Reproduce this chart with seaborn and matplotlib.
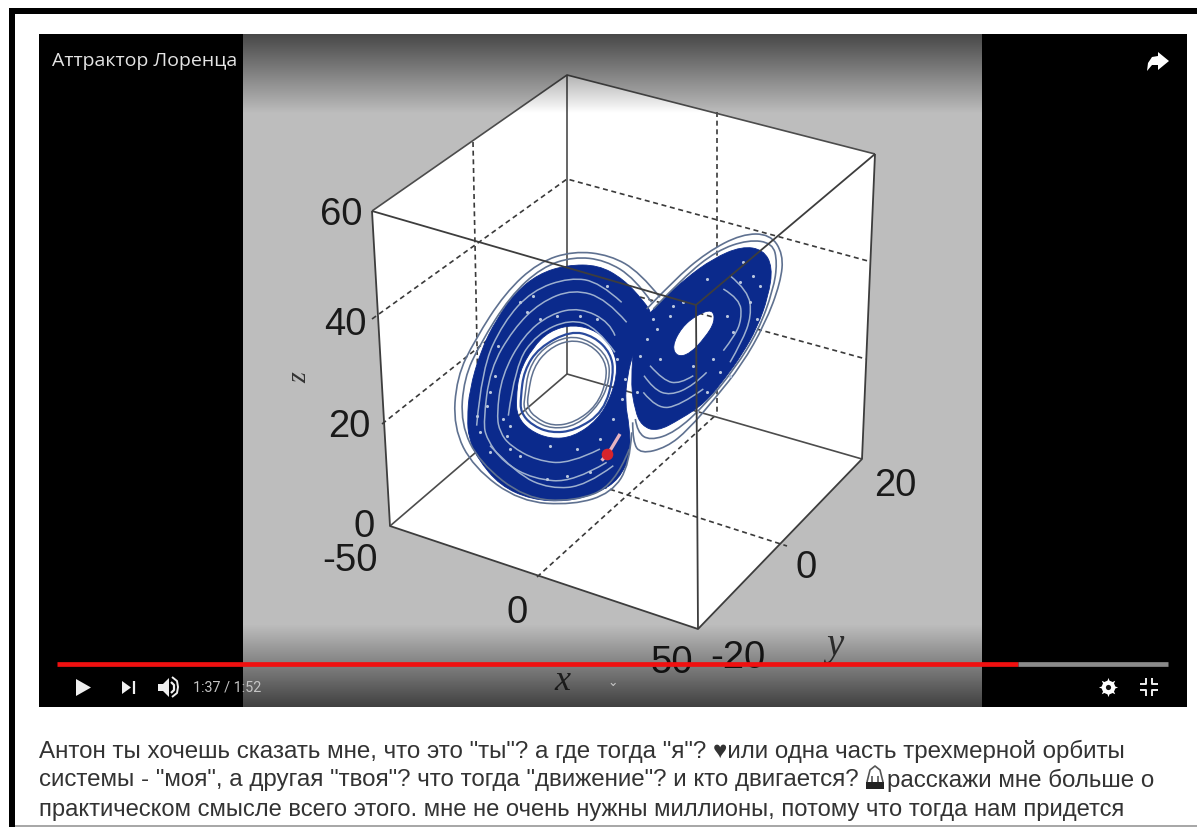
import numpy as np
import matplotlib
matplotlib.use("Agg")
import matplotlib.pyplot as plt
from matplotlib.path import Path
from matplotlib.patches import PathPatch
import seaborn as sns

# ---- data (crop coordinates of the attractor area) ----
title = "Аттрактор Лоренца"
time_label = "1:37 / 1:52"
z_ticks = ["60", "40", "20", "0"]
x_ticks = ["-50", "0", "50"]
y_ticks = ["-20", "0", "20"]
body_1 = 'Антон ты хочешь сказать мне, что это "ты"? а где тогда "я"? ♥или одна часть трехмерной орбиты'
body_2a = 'системы - "моя", а другая "твоя"? что тогда "движение"? и кто двигается?'
body_2b = 'расскажи мне больше о'
body_3 = 'практическом смысле всего этого. мне не очень нужны миллионы, потому что тогда нам придется'

left_band_x = [82,88,122,170,225,295,380,475,550,610,640,610,580,562,555,568,572,538,475,380,275,180,112,86]
left_band_y = [600,515,395,300,222,165,138,138,180,245,290,345,400,470,550,620,705,780,822,848,842,800,718,655]
left_hole_x = [228,238,278,328,400,472,518,534,514,472,400,330,268,232]
left_hole_y = [540,458,386,336,316,336,386,450,532,604,654,660,634,592]
right_band_x = [585,645,735,820,905,970,998,985,952,905,855,795,722,650,605,585,572]
right_band_y = [340,262,180,118,82,92,145,232,325,408,478,552,600,638,620,575,490]
right_hole_x = [696,725,770,818,825,795,750,712]
right_hole_y = [382,325,288,270,308,356,404,414]

inner_ring_a_x = [255,265,310,385,450,505,510,480,410,335,280,250]
inner_ring_a_y = [530,450,385,350,365,415,480,555,620,630,605,570]
inner_ring_b_x = [264,280,325,388,450,497,500,470,405,338,285,262]
inner_ring_b_y = [525,445,390,362,375,425,485,560,610,622,595,565]
inner_ring_c_x = [242,252,296,392,462,512,522,492,405,332,275,242]
inner_ring_c_y = [535,455,386,335,352,402,465,578,635,642,618,580]

light_a_x = [560,500,400,300,220,150,130,140,190,280,400,500]
light_a_y = [310,240,210,250,330,450,610,660,730,780,790,730]
light_b_x = [525,510,420,330,250,185,170,180,210,290,390,480]
light_b_y = [350,310,265,285,350,470,590,640,680,725,735,690]
light_c_x = [110,125,190,275,390,480,545]
light_c_y = [620,450,310,215,175,190,250]
light_d_x = [150,230,330,440,520]
light_d_y = [680,765,810,800,740]
light_e_x = [205,225,290,390,470,525]
light_e_y = [590,440,345,300,325,400]

arc_a_x = [612,640,690,760,800]
arc_a_y = [470,510,530,500,460]
arc_b_x = [610,650,720,790]
arc_b_y = [520,570,560,510]
arc_c_x = [630,670,720,760]
arc_c_y = [440,485,495,470]
arc_d_x = [850,900,905,885,850]
arc_d_y = [210,240,300,350,395]
arc_e_x = [870,925,935,905,870]
arc_e_y = [170,215,290,370,430]

outer_l1_x = [575,570,515,400,240,100,40,50,105,195,295,400,510,600,660]
outer_l1_y = [640,735,822,858,848,745,625,475,362,222,130,96,108,160,235]
outer_l2_x = [568,525,400,255,118,62,72,120,210,305,400,495,585,635]
outer_l2_y = [690,800,848,838,730,615,478,375,232,145,113,123,178,250]
outer_r1_x = [620,700,800,905,990,1030,1022,975,905,825,745,680,602,578,578]
outer_r1_y = [270,185,100,45,45,105,190,315,438,538,632,685,705,668,610]
outer_r2_x = [640,730,830,925,998,1012,1000,955,885,795,705,630,592,586]
outer_r2_y = [270,175,95,62,72,130,212,335,448,558,640,665,640,600]

speck_x = [150,165,190,210,120,140,260,300,350,420,470,530,545,210,240,330,410,480,520,150,
           620,650,690,660,730,800,860,900,930,820,840,760,800,880,940,950,
           110,175,200,240,280,320,380,450,500,555,590,600,640,700,770,870,910,960]
speck_y = [520,470,600,620,640,560,280,300,290,290,300,420,540,690,710,680,690,660,600,700,
           360,330,290,420,250,180,290,190,250,420,460,440,520,340,170,300,
           590,380,650,250,230,780,770,760,200,480,520,410,300,260,580,470,130,200]
marker_x = [500]
marker_y = [705]
streak_x = [485,510,540]
streak_y = [725,695,645]

# ---- figure ----
sns.set_theme(style="white")
plt.rcParams["font.family"] = ["Liberation Sans", "DejaVu Sans"]
fig = plt.figure(figsize=(11.97, 8.28), dpi=100, facecolor="white")
ax = fig.add_axes([0, 0, 1, 1])
ax.set_xlim(0, 1197)
ax.set_ylim(828, 0)
ax.axis("off")

def px(v):
    return [440 + a / 3 for a in v]

def py(v):
    return [220 + a / 3 for a in v]

def line(xs, ys, color, lw, z, dashes=None):
    g = sns.lineplot(x=xs, y=ys, sort=False, estimator=None, color=color, lw=lw,
                     zorder=z, ax=ax, legend=False, solid_joinstyle="round", solid_capstyle="butt")
    if dashes:
        g.get_lines()[-1].set_dashes(dashes)

def rect(x0, y0, x1, y1, color, z):
    ax.fill([x0, x1, x1, x0], [y0, y0, y1, y1], color=color, lw=0, zorder=z)

def closed_curve(xs, ys):
    # quadratic curve using the read points as control points
    n = len(xs)
    p = [(x, y) for x, y in zip(px(xs), py(ys))]
    mid = lambda a, b: ((a[0] + b[0]) / 2, (a[1] + b[1]) / 2)
    verts, codes = [mid(p[-1], p[0])], [Path.MOVETO]
    for i in range(n):
        verts += [p[i], mid(p[i], p[(i + 1) % n])]
        codes += [Path.CURVE3, Path.CURVE3]
    return verts, codes

def open_curve(xs, ys):
    p = [(x, y) for x, y in zip(px(xs), py(ys))]
    mid = lambda a, b: ((a[0] + b[0]) / 2, (a[1] + b[1]) / 2)
    verts, codes = [p[0]], [Path.MOVETO]
    for i in range(1, len(p) - 1):
        end = p[i + 1] if i == len(p) - 2 else mid(p[i], p[i + 1])
        verts += [p[i], end]
        codes += [Path.CURVE3, Path.CURVE3]
    return verts, codes

def stroke(curve, color, lw, z):
    v, c = curve
    ax.add_patch(PathPatch(Path(v, c), fill=False, edgecolor=color, lw=lw, zorder=z))

# page frame
rect(9, 9, 1197, 15, "black", 1)
rect(9, 9, 15, 828, "black", 1)
rect(15, 826, 1197, 828, "#a8a8a8", 1)

# video
rect(39, 35, 1187, 708, "black", 2)
rect(243, 35, 982, 708, "#bdbdbd", 2.1)

# cube
ax.fill([372,567,875,862,698,390], [212,76,155,460,630,527], color="white", lw=0, zorder=3)
dash = (3, 2.2)
for xs, ys in [([372,567,868],[320,180,262]), ([382,567,866],[425,278,360]),
               ([473,479],[143,448]), ([717,717],[113,415]),
               ([537,717],[578,415]), ([478,787],[448,547])]:
    line(xs, ys, "#3a3a3a", 1.2, 3.2, dashes=dash)
back = "#4c4c4c"
line([372,567,875], [212,76,155], back, 1.2, 3.3)
line([567,567], [76,375], back, 1.2, 3.3)
line([390,567,862], [527,375,460], back, 1.2, 3.3)

# attractor bands
navy = "#0b2a8c"
slate = "#5f7190"
light = "#9db0cf"

def band(ox, oy, hx, hy):
    v1, c1 = closed_curve(ox, oy)
    v2, c2 = closed_curve(hx[::-1], hy[::-1])
    ax.add_patch(PathPatch(Path(v1 + v2, c1 + c2), facecolor=navy, edgecolor=navy, lw=0.6, zorder=4))

band(left_band_x, left_band_y, left_hole_x, left_hole_y)
band(right_band_x, right_band_y, right_hole_x, right_hole_y)
stroke(closed_curve(inner_ring_a_x, inner_ring_a_y), slate, 1.1, 4.2)
stroke(closed_curve(inner_ring_b_x, inner_ring_b_y), slate, 1.1, 4.2)
stroke(closed_curve(inner_ring_c_x, inner_ring_c_y), "#2a4a9c", 1.6, 4.2)
for xs, ys in [(light_a_x, light_a_y), (light_b_x, light_b_y), (light_c_x, light_c_y),
               (light_d_x, light_d_y), (light_e_x, light_e_y),
               (arc_a_x, arc_a_y), (arc_b_x, arc_b_y), (arc_c_x, arc_c_y), (arc_d_x, arc_d_y), (arc_e_x, arc_e_y)]:
    stroke(open_curve(xs, ys), light, 1.1, 4.3)
for xs, ys in [(outer_l1_x, outer_l1_y), (outer_l2_x, outer_l2_y), (outer_r1_x, outer_r1_y), (outer_r2_x, outer_r2_y)]:
    stroke(open_curve(xs, ys), slate, 1.2, 4.1)
sns.scatterplot(x=px(speck_x), y=py(speck_y), color="#b9c6de", s=5, linewidth=0, zorder=4.4, ax=ax, legend=False)
line(px(streak_x), py(streak_y), "#e6b3c0", 2.4, 4.5)
sns.scatterplot(x=px(marker_x), y=py(marker_y), color="#d8242c", s=70, linewidth=0, zorder=4.6, ax=ax, legend=False)

# front cube edges
front = "#3d3d3d"
line([372,390,698,862,875], [212,527,630,460,155], front, 1.3, 5)
line([372,696,875], [212,306,155], front, 1.3, 5)
line([696,698], [306,630], front, 1.3, 5)

# ticks and labels
tick_style = dict(color="#1a1a1a", fontsize=27.5, ha="center", va="center", zorder=6)
for s, x, y in zip(z_ticks, [341, 345, 349, 364], [215, 325, 427, 527]):
    ax.text(x, y, s, **tick_style)
for s, x, y in zip(x_ticks, [350, 517, 672], [561, 613, 663]):
    ax.text(x, y, s, **tick_style)
for s, x, y in zip(y_ticks, [738, 806, 895], [658, 568, 486]):
    ax.text(x, y, s, **tick_style)
serif = dict(family="Liberation Serif", style="italic", color="#333333", ha="center", va="center", zorder=6)
ax.text(300, 378, "z", rotation=90, fontsize=20, **serif)
ax.text(562, 682, "x", fontsize=26, **serif)
ax.text(835, 646, "y", fontsize=28, **serif)

# dark fades over the panel
top_fade = np.zeros((80, 1, 4))
top_fade[:, 0, 3] = np.linspace(0.62, 0, 80)
ax.imshow(top_fade, extent=(243, 982, 115, 35), aspect="auto", zorder=7, interpolation="bilinear")
bot_fade = np.zeros((80, 1, 4))
bot_fade[:, 0, 3] = np.linspace(0, 0.66, 80)
ax.imshow(bot_fade, extent=(243, 982, 708, 625), aspect="auto", zorder=7, interpolation="bilinear")
ax.set_xlim(0, 1197)
ax.set_ylim(828, 0)

# player chrome
ax.text(52, 61, title, family="Open Sans", color="#e4e4e4", fontsize=14, va="center", ha="left", zorder=8)
ax.fill([1158,1169,1158,1158,1152,1147,1148,1152,1158], [53,62,71,66,66,72,64,58,57], color="white", lw=0, zorder=8)
line([57,1018], [665,665], "#f01010", 3.4, 8)
line([1018,1168], [665,665], "#8a8a8a", 3.4, 8)
ax.fill([76,91,76], [680,688.5,697], color="#f0f0f0", lw=0, zorder=8)
ax.fill([122,131,122], [682,688.5,695], color="#f0f0f0", lw=0, zorder=8)
line([134,134], [682,695], "#f0f0f0", 1.6, 8)
ax.fill([158,163,169,169,163,158], [685,685,679,698,692,692], color="#f0f0f0", lw=0, zorder=8)
line([171,174,174,171], [683,686,691,694], "#f0f0f0", 1.6, 8)
line([172,177,178,177,172], [678,682,688,694,698], "#f0f0f0", 1.4, 8)
ax.text(193, 687.5, time_label, family="Roboto", color="#c4c4c4", fontsize=10.4, va="center", ha="left", zorder=8)
ax.text(613, 683, "⌄", family="DejaVu Sans", color="#c8c8c8", fontsize=9, va="center", ha="center", zorder=8)
ax.scatter([1108], [688], marker=(8, 1, 0), s=190, color="white", lw=0, zorder=8)
ax.scatter([1108], [688], marker="o", s=95, color="white", lw=0, zorder=8.1)
ax.scatter([1108], [688], marker="o", s=14, color="#111111", lw=0, zorder=8.2)
for xs, ys in [([1140,1146,1146],[685,685,679]), ([1152,1152,1158],[679,685,685]),
               ([1140,1146,1146],[691,691,697]), ([1152,1152,1158],[697,691,691])]:
    line(xs, ys, "#f0f0f0", 1.4, 8)

# comment text
text_style = dict(color="#333333", va="center", ha="left", zorder=8)
ax.text(39, 751.5, body_1, fontsize=17.4, **text_style)
ax.text(39, 780.5, body_2a, fontsize=17.4, **text_style)
ax.text(887, 780.5, body_2b, fontsize=17.4, **text_style)
ax.text(39, 810.5, body_3, fontsize=17.1, **text_style)
# small scream face
ax.fill([866,884,884,866], [783,783,790,790], color="#222222", lw=0, zorder=8.1)
line([867,870,875,880,883], [783,771,767,771,783], "#555555", 1.2, 8.2)
line([872,872], [777,783], "#555555", 1.2, 8.2)
line([878,878], [777,783], "#555555", 1.2, 8.2)

fig.savefig("out.png", dpi=100, facecolor="white")
